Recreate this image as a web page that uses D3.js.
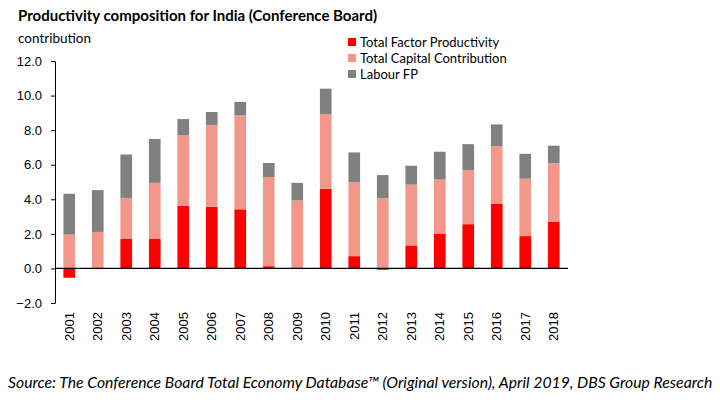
<!DOCTYPE html>
<html>
<head>
<meta charset="utf-8">
<script src="https://cdn.jsdelivr.net/npm/d3@7"></script>
<style>
  body { margin: 0; background: #fff; }
  svg { display: block; font-family: Lato, "Liberation Sans", Arial, sans-serif; }
  .axis path, .axis line { stroke: #000; }
  .axis text { fill: #000; font-size: 13px; }
</style>
</head>
<body>
<div id="chart"></div>
<script>
const years = ['2001', '2002', '2003', '2004', '2005', '2006', '2007', '2008', '2009',
  '2010', '2011', '2012', '2013', '2014', '2015', '2016', '2017', '2018'];
const tfp = [-0.54, 0.0, 1.73, 1.73, 3.62, 3.56, 3.42, 0.13, 0.0,
  4.6, 0.71, -0.08, 1.33, 2.02, 2.56, 3.73, 1.87, 2.69];
const capital = [1.96, 2.11, 2.35, 3.22, 4.1, 4.74, 5.45, 5.15, 3.93,
  4.33, 4.28, 4.06, 3.52, 3.13, 3.13, 3.35, 3.32, 3.39];
const labour = [2.36, 2.42, 2.51, 2.54, 0.92, 0.75, 0.76, 0.82, 1.02,
  1.47, 1.72, 1.34, 1.09, 1.6, 1.5, 1.25, 1.44, 1.02];
const seriesNames = ['Total Factor Productivity', 'Total Capital Contribution', 'Labour FP'];
const yTicks = [-2, 0, 2, 4, 6, 8, 10, 12];

const colors = ['#ff0000', '#f4978b', '#808080'];
const width = 720;
const height = 406;
const margin = { top: 61, right: 152, bottom: 103, left: 55 };

const rows = years.map((year, i) => ({
  year,
  tfp: tfp[i],
  capital: capital[i],
  labour: labour[i],
}));

const keys = ['tfp', 'capital', 'labour'];
const stacked = d3.stack()
  .keys(keys)
  .offset(d3.stackOffsetDiverging)(rows);

const svg = d3.select('#chart')
  .append('svg')
  .attr('width', width)
  .attr('height', height);

const x = d3.scaleBand()
  .domain(years)
  .range([margin.left, width - margin.right])
  .paddingInner(0.59)
  .paddingOuter(0.295);

const y = d3.scaleLinear()
  .domain([-2, 12])
  .range([height - margin.bottom, margin.top]);

// bars
svg.append('g')
  .selectAll('g')
  .data(stacked)
  .join('g')
  .attr('fill', (d, i) => colors[i])
  .selectAll('rect')
  .data(d => d)
  .join('rect')
  .attr('x', d => x(d.data.year))
  .attr('width', x.bandwidth())
  .attr('y', d => y(Math.max(d[0], d[1])))
  .attr('height', d => Math.abs(y(d[0]) - y(d[1])));

// y axis
svg.append('g')
  .attr('class', 'axis axis--y')
  .attr('transform', `translate(${margin.left}, 0)`)
  .call(d3.axisLeft(y)
    .tickValues(yTicks)
    .tickFormat(d3.format('.1f'))
    .tickSize(4)
    .tickSizeOuter(0)
    .tickPadding(9));

// zero line
svg.append('line')
  .attr('x1', margin.left)
  .attr('x2', width - margin.right)
  .attr('y1', y(0))
  .attr('y2', y(0))
  .attr('stroke', '#000')
  .attr('stroke-width', 1.3);

// x labels
const xAxis = svg.append('g')
  .attr('class', 'axis axis--x')
  .attr('transform', `translate(0, ${y(-2)})`)
  .call(d3.axisBottom(x).tickSize(0));

xAxis.select('.domain').remove();
xAxis.selectAll('text')
  .attr('transform', 'rotate(-90)')
  .attr('x', -9)
  .attr('y', 0)
  .attr('dy', '0.35em')
  .attr('text-anchor', 'end');

// title
svg.append('text')
  .attr('x', 18)
  .attr('y', 21)
  .attr('font-size', 15)
  .attr('font-weight', 'bold')
  .text('Productivity composition for India (Conference Board)');

svg.append('text')
  .attr('x', 18)
  .attr('y', 43)
  .attr('font-size', 13.5)
  .text('contribution');

// legend
const legend = svg.append('g')
  .attr('transform', 'translate(348, 42)')
  .selectAll('g')
  .data(seriesNames)
  .join('g')
  .attr('transform', (d, i) => `translate(0, ${i * 16})`);

legend.append('rect')
  .attr('x', 0)
  .attr('y', -4)
  .attr('width', 8)
  .attr('height', 8)
  .attr('fill', (d, i) => colors[i]);

legend.append('text')
  .attr('x', 12)
  .attr('dy', '0.35em')
  .attr('font-size', 13)
  .text(d => d);

// source
svg.append('text')
  .attr('x', 8)
  .attr('y', 388)
  .attr('font-size', 15.75)
  .attr('font-style', 'italic')
  .text('Source: The Conference Board Total Economy Database\u2122 (Original version), April 2019, DBS Group Research');
</script>
</body>
</html>
